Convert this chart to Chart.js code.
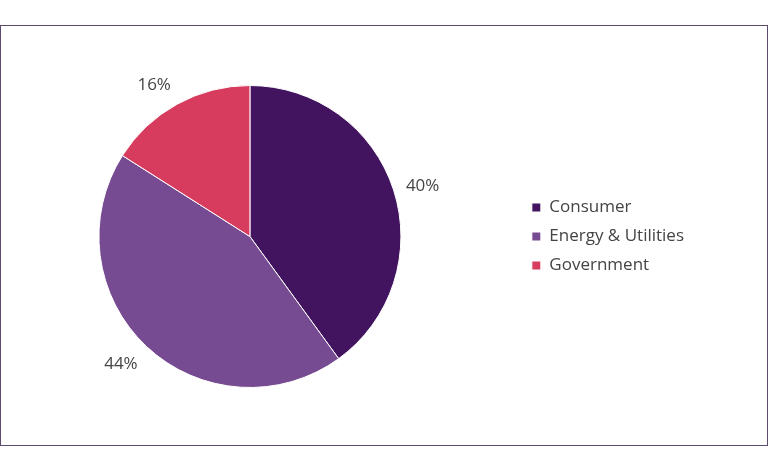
<!DOCTYPE html>
<html>
<head>
<meta charset="utf-8">
<script src="https://cdn.jsdelivr.net/npm/chart.js@4/dist/chart.umd.min.js"></script>
<style>
  html, body { margin: 0; padding: 0; background: #fff; overflow: hidden; }
  body { width: 768px; height: 471px; position: relative; }
  .frame {
    position: absolute; left: 0; top: 25px; width: 768px; height: 421px;
    box-sizing: border-box; border: 1px solid #5d4a6f;
  }
  .wrap { position: absolute; left: -25px; top: 26px; width: 793px; height: 418px; }
</style>
</head>
<body>
<div class="frame"></div>
<div class="wrap"><canvas id="chart"></canvas></div>
<script>
// ─── DATA ─────────────────────────────────────────────────────────────────────
const categories = ['Consumer', 'Energy & Utilities', 'Government'];
const shares = [40, 44, 16];
const sliceColors = ['#42145f', '#774b91', '#d73b5d'];

const FONT = '"Open Sans", "DejaVu Sans", sans-serif';
const TEXT = '#444444';

// Percentage labels just outside each slice, anchored by their nearest corner
const outsideLabels = {
  id: 'outsideLabels',
  afterDatasetsDraw(chart) {
    const { ctx } = chart;
    const meta = chart.getDatasetMeta(0);
    ctx.save();
    ctx.font = '17px ' + FONT;
    ctx.fillStyle = TEXT;
    ctx.textAlign = 'center';
    ctx.textBaseline = 'middle';
    meta.data.forEach((arc, i) => {
      const mid = (arc.startAngle + arc.endAngle) / 2;
      const dx = Math.cos(mid), dy = Math.sin(mid);
      const r = arc.outerRadius + 13;
      const txt = shares[i] + '%';
      const w = ctx.measureText(txt).width, h = 16;
      const ox = Math.abs(dx) > 0.3 ? Math.sign(dx) * w / 2 : 0;
      const oy = Math.abs(dy) > 0.5 ? Math.sign(dy) * h / 2 : 0;
      ctx.fillText(txt, arc.x + dx * r + ox, arc.y + dy * r + oy);
    });
    ctx.restore();
  }
};

new Chart(document.getElementById('chart'), {
  type: 'pie',
  data: {
    labels: categories,
    datasets: [{
      data: shares,
      backgroundColor: sliceColors,
      borderColor: '#ffffff',
      borderWidth: 1
    }]
  },
  options: {
    responsive: true,
    maintainAspectRatio: false,
    animation: false,
    layout: { padding: { left: 5, top: 59, bottom: 56, right: 74 } },
    plugins: {
      tooltip: { enabled: false },
      legend: {
        position: 'right',
        labels: {
          boxWidth: 9,
          boxHeight: 9,
          padding: 12,
          color: TEXT,
          font: { family: FONT, size: 17 }
        }
      }
    }
  },
  plugins: [outsideLabels]
});
</script>
</body>
</html>
